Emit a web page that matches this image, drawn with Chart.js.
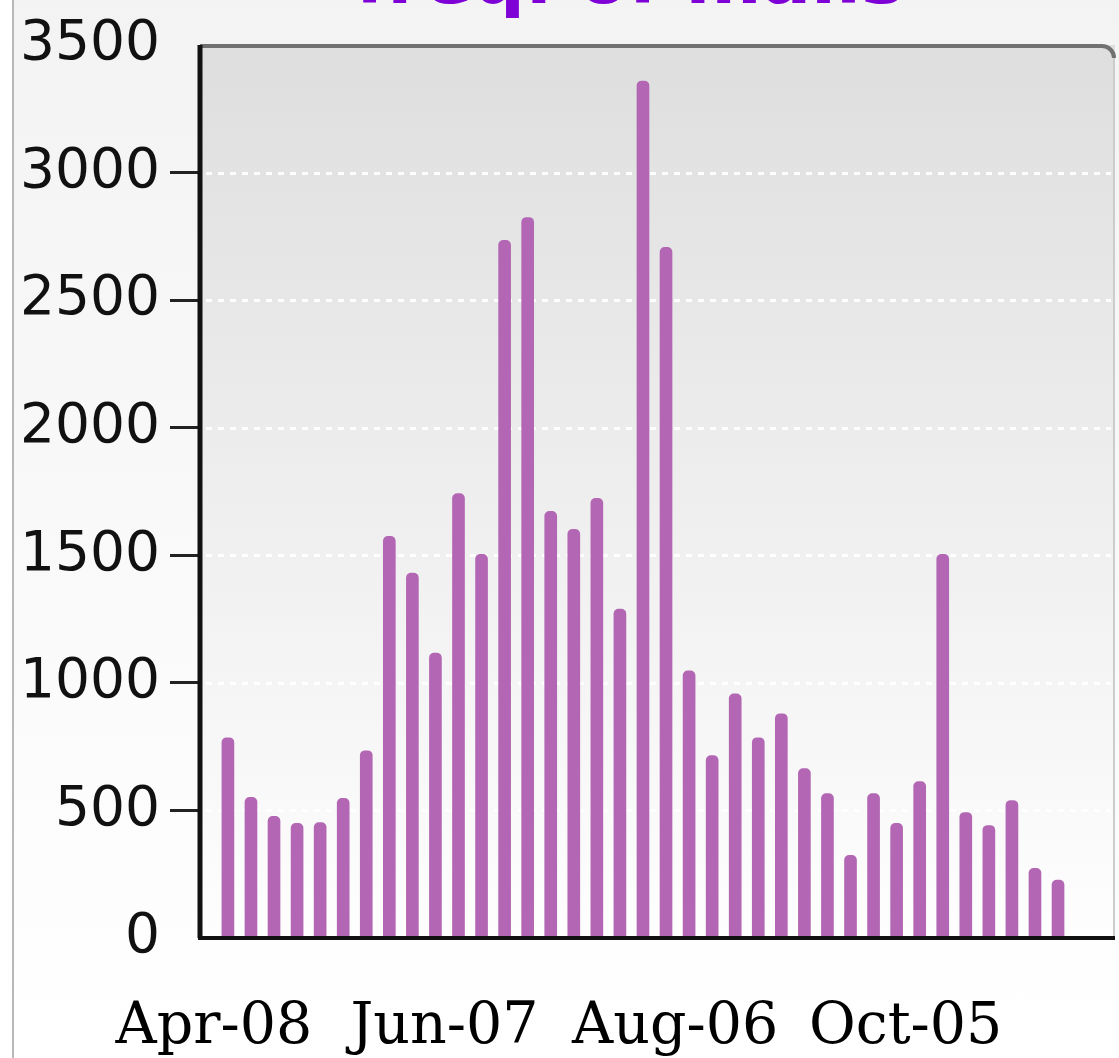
<!DOCTYPE html>
<html>
<head>
<meta charset="utf-8">
<script src="https://cdn.jsdelivr.net/npm/chart.js@4.4.0/dist/chart.umd.min.js"></script>
<style>
  html, body { margin: 0; padding: 0; background: #fff; }
  #wrap { position: relative; width: 1119px; height: 1058px; overflow: hidden; background: #fff; }
  #bg { position: absolute; left: 12px; top: 0; right: 0; bottom: 0;
        border-left: 2px solid #b8b8b8; background: linear-gradient(#f3f3f3, #ffffff); }
  canvas { position: absolute; left: 0; top: 0; }
</style>
</head>
<body>
<div id="wrap"><div id="bg"></div><canvas id="chart" width="1119" height="1058"></canvas></div>
<script>
const chartTitle = "freq. of mails";

const months = [
  "Apr-08", "Mar-08", "Feb-08", "Jan-08", "Dec-07", "Nov-07", "Oct-07", "Sep-07", "Aug-07", "Jul-07",
  "Jun-07", "May-07", "Apr-07", "Mar-07", "Feb-07", "Jan-07", "Dec-06", "Nov-06", "Oct-06", "Sep-06",
  "Aug-06", "Jul-06", "Jun-06", "May-06", "Apr-06", "Mar-06", "Feb-06", "Jan-06", "Dec-05", "Nov-05",
  "Oct-05", "Sep-05", "Aug-05", "Jul-05", "Jun-05", "May-05", "Apr-05"
];

const mails = [
  785, 551, 477, 449, 452, 547, 734, 1574, 1430, 1117,
  1742, 1504, 2734, 2824, 1672, 1602, 1723, 1289, 3359, 2707,
  1047, 715, 957, 785, 879, 664, 566, 324, 566, 449,
  613, 1504, 492, 441, 539, 273, 227
];

const tickMonths = ["Apr-08", "Jun-07", "Aug-06", "Oct-05"];
const yTicks = [0, 500, 1000, 1500, 2000, 2500, 3000, 3500];

// plot background, dotted grid, frame and the half-hidden title
const framePlugin = {
  id: "frame",
  beforeDatasetsDraw(chart) {
    const { ctx, chartArea: a, scales: { y } } = chart;
    ctx.save();
    const g = ctx.createLinearGradient(0, a.top, 0, a.bottom);
    g.addColorStop(0, "#dedede");
    g.addColorStop(1, "#fefefe");
    ctx.fillStyle = g;
    ctx.fillRect(a.left, a.top, a.right - a.left, a.bottom - a.top);

    ctx.strokeStyle = "rgba(255,255,255,0.95)";
    ctx.lineWidth = 3;
    ctx.setLineDash([6, 6]);
    y.ticks.forEach(t => {
      if (t.value <= 0 || t.value >= 3500) return;
      const py = Math.round(y.getPixelForValue(t.value)) + 0.5;
      ctx.beginPath();
      ctx.moveTo(a.left + 6, py);
      ctx.lineTo(a.right - 4, py);
      ctx.stroke();
    });
    ctx.restore();
  },
  afterDatasetsDraw(chart) {
    const { ctx, chartArea: a } = chart;
    const r = 12;
    ctx.save();
    ctx.strokeStyle = "#cccccc";
    ctx.lineWidth = 2;
    ctx.beginPath();
    ctx.moveTo(a.right - 1, a.top + r);
    ctx.lineTo(a.right - 1, a.bottom);
    ctx.stroke();
    ctx.strokeStyle = "#707070";
    ctx.lineWidth = 4;
    ctx.beginPath();
    ctx.moveTo(a.left, a.top + 1);
    ctx.lineTo(a.right - r, a.top + 1);
    ctx.arcTo(a.right - 1, a.top + 1, a.right - 1, a.top + r, r);
    ctx.stroke();
    ctx.strokeStyle = "#111111";
    ctx.lineWidth = 5;
    ctx.beginPath();
    ctx.moveTo(a.left, a.top);
    ctx.lineTo(a.left, a.bottom);
    ctx.stroke();
    ctx.lineWidth = 4;
    ctx.beginPath();
    ctx.moveTo(a.left - 2, a.bottom);
    ctx.lineTo(a.right, a.bottom);
    ctx.stroke();
    ctx.restore();
  },
  afterDraw(chart) {
    const { ctx } = chart;
    ctx.save();
    ctx.fillStyle = "#7e00d6";
    ctx.font = "bold 73px 'DejaVu Sans'";
    ctx.textAlign = "center";
    ctx.textBaseline = "alphabetic";
    ctx.fillText(chartTitle, 630, 3);
    ctx.restore();
  }
};

new Chart(document.getElementById("chart"), {
  type: "bar",
  data: {
    datasets: [{
      data: mails.map((v, i) => ({ x: i, y: v })),
      backgroundColor: "#b366b3",
      barThickness: 12,
      borderRadius: { topLeft: 5, topRight: 5 },
      borderSkipped: "start"
    }]
  },
  options: {
    responsive: false,
    animation: false,
    layout: { padding: { top: 45, right: 4, left: 0, bottom: 0 } },
    plugins: { legend: { display: false }, tooltip: { enabled: false }, title: { display: false } },
    scales: {
      x: {
        type: "linear",
        offset: false,
        min: -1.21,
        max: 38.47,
        afterBuildTicks: s => { s.ticks = tickMonths.map(m => ({ value: months.indexOf(m) })); },
        afterFit: s => { s.height = 120; },
        grid: { display: false },
        border: { display: false },
        ticks: {
          callback: v => months[v],
          autoSkip: false,
          maxRotation: 0,
          labelOffset: -14,
          padding: 48,
          color: "#000",
          font: { family: "'DejaVu Serif'", size: 57 }
        }
      },
      y: {
        min: 0,
        max: 3500,
        afterBuildTicks: s => { s.ticks = yTicks.map(v => ({ value: v })); },
        afterFit: s => { s.width = 200; },
        grid: {
          drawOnChartArea: false,
          tickLength: 30,
          tickWidth: 3,
          tickColor: c => (c.tick && (c.tick.value === 0 || c.tick.value === 3500)) ? "rgba(0,0,0,0)" : "#222"
        },
        border: { display: false },
        ticks: {
          padding: 10,
          color: "#111",
          callback: v => String(v),
          font: { family: "'DejaVu Sans'", size: 55 }
        }
      }
    }
  },
  plugins: [framePlugin]
});
</script>
</body>
</html>
